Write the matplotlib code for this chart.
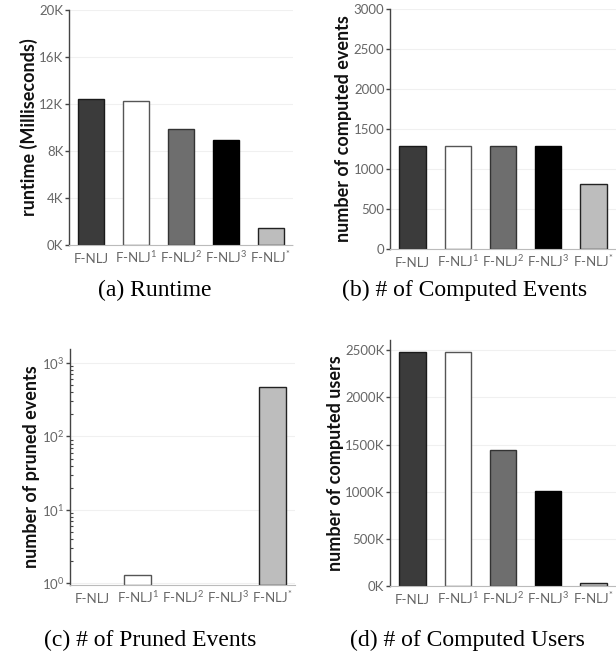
import matplotlib.pyplot as plt
from matplotlib.ticker import FixedLocator, FuncFormatter, LogLocator, NullFormatter

plt.rcParams['font.family'] = ['Lato', 'DejaVu Sans']
plt.rcParams['mathtext.fontset'] = 'custom'
plt.rcParams['mathtext.rm'] = 'Lato'
plt.rcParams['mathtext.it'] = 'Lato'

labels = ["F-NLJ", r"F-NLJ$^{\mathregular{1}}$", r"F-NLJ$^{\mathregular{2}}$",
          r"F-NLJ$^{\mathregular{3}}$", r"F-NLJ$^{\mathregular{*}}$"]
colors = ["#3b3b3b", "#ffffff", "#6e6e6e", "#000000", "#bdbdbd"]
edges = ["#1a1a1a", "#555555", "#333333", "#000000", "#222222"]

runtime_k = [12.4, 12.26, 9.87, 8.96, 1.45]
computed_events = [1292, 1292, 1292, 1292, 812]
pruned_events = [0, 1.3, 0, 0, 466]
computed_users_k = [2484, 2484, 1437, 1012, 32]

panels = [
    # left, bottom, width, height in pixels (fig 616x653)
    dict(rect=(69, 245, 224, 235), ylabel="runtime (Milliseconds)",
         caption="(a) Runtime", cx=155, cy=290),
    dict(rect=(390, 249, 226, 240), ylabel="number of computed events",
         caption="(b) # of Computed Events", cx=465, cy=290),
    dict(rect=(70, 585, 225, 236), ylabel="number of pruned events",
         caption="(c) # of Pruned Events", cx=150, cy=640),
    dict(rect=(390, 586, 226, 246), ylabel="number of computed users",
         caption="(d) # of Computed Users", cx=467, cy=640),
]

W, H = 616, 653
fig = plt.figure(figsize=(W / 100, H / 100), dpi=100)

axes = []
for p in panels:
    x0, yb, w, h = p["rect"]
    ax = fig.add_axes([x0 / W, 1 - yb / H, w / W, h / H])
    axes.append(ax)


def style(ax, ylabel, h_px):
    for s in ["top", "right"]:
        ax.spines[s].set_visible(False)
    ax.spines["left"].set_color("#444444")
    ax.spines["left"].set_linewidth(1.0)
    ax.spines["bottom"].set_color("#bbbbbb")
    ax.spines["bottom"].set_linestyle((0, (1, 1)))
    ax.spines["bottom"].set_linewidth(0.8)
    ax.set_xlim(-0.5, 4.5)
    ax.set_xticks(range(5))
    ax.set_xticklabels([])
    ax.tick_params(axis="x", length=0)
    # category labels on a common baseline so superscripts don't shift them
    for i, lab in enumerate(labels):
        ax.text(i, -18 / h_px, lab, transform=ax.get_xaxis_transform(),
                ha="center", va="baseline", fontsize=9.5, color="#666666")
    ax.tick_params(axis="y", which="major", length=3, width=1, color="#444444",
                   labelsize=9.5, labelcolor="#666666", pad=1)
    ax.yaxis.grid(True, color="#f0f0f0", linewidth=0.8)
    ax.set_axisbelow(True)
    ax.set_ylabel(ylabel, fontsize=13, fontweight="bold", color="#111111", labelpad=1)


bw = 0.58

# (a) runtime
ax = axes[0]
ax.bar(range(5), runtime_k, width=bw, color=colors, edgecolor=edges, linewidth=1)
ax.set_ylim(0, 20)
ax.yaxis.set_major_locator(FixedLocator([0, 4, 8, 12, 16, 20]))
ax.yaxis.set_major_formatter(FuncFormatter(lambda v, _: f"{v:.0f}K"))
style(ax, panels[0]["ylabel"], panels[0]["rect"][3])

# (b) computed events
ax = axes[1]
ax.bar(range(5), computed_events, width=bw, color=colors, edgecolor=edges, linewidth=1)
ax.set_ylim(0, 3000)
ax.yaxis.set_major_locator(FixedLocator([0, 500, 1000, 1500, 2000, 2500, 3000]))
style(ax, panels[1]["ylabel"], panels[1]["rect"][3])

# (c) pruned events, log scale
ax = axes[2]
ax.set_yscale("log")
low = 0.95
for i, v in enumerate(pruned_events):
    if v > 0:
        ax.bar(i, v - low, bottom=low, width=bw, color=colors[i],
               edgecolor=edges[i], linewidth=1)
ax.set_ylim(low, 1550)
ax.yaxis.set_major_locator(LogLocator(base=10, numticks=10))
ax.yaxis.set_minor_locator(LogLocator(base=10, subs=range(2, 10), numticks=10))
ax.yaxis.set_minor_formatter(NullFormatter())
style(ax, panels[2]["ylabel"], panels[2]["rect"][3])
ax.tick_params(axis="y", which="minor", direction="in", length=2, width=0.8, color="#444444")

# (d) computed users
ax = axes[3]
ax.bar(range(5), computed_users_k, width=bw, color=colors, edgecolor=edges, linewidth=1)
ax.set_ylim(0, 2608)
ax.yaxis.set_major_locator(FixedLocator([0, 500, 1000, 1500, 2000, 2500]))
ax.yaxis.set_major_formatter(FuncFormatter(lambda v, _: f"{v:.0f}K"))
style(ax, panels[3]["ylabel"], panels[3]["rect"][3])

for p in panels:
    fig.text(p["cx"] / W, 1 - p["cy"] / H, p["caption"], ha="center", va="center",
             fontsize=17, family=["Liberation Serif", "DejaVu Serif"])

fig.savefig("out.png", dpi=100)
